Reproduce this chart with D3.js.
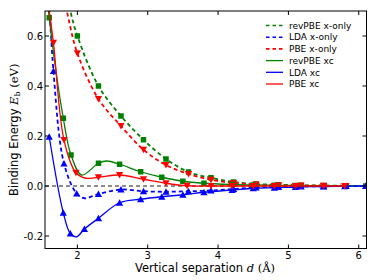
<!DOCTYPE html>
<html>
<head>
<meta charset="utf-8">
<script src="https://cdn.jsdelivr.net/npm/d3@7"></script>
<style>
  body { margin: 0; background: white; }
  svg { display: block; }
</style>
</head>
<body>
<div id="viz-container"></div>
<script>
// marker positions (d in Angstrom, Eb in eV)
let revX_d = [2.0, 2.3, 2.62, 2.94, 3.26, 3.58, 3.9, 4.22, 4.54, 4.86, 5.18, 5.5, 5.82];
let revX_e = [0.60, 0.40, 0.28, 0.185, 0.108, 0.056, 0.033, 0.016, 0.008, 0.005, 0.003, 0.002, 0.001];
let ldaX_d = [1.66, 1.81, 1.99, 2.3, 2.62, 2.94, 3.26, 3.58, 3.9, 4.22, 4.54, 4.86, 5.18, 5.5, 5.82, 6.1];
let ldaX_e = [0.46, 0.09, -0.03, -0.032, -0.014, -0.021, -0.023, -0.021, -0.018, -0.012, -0.006, -0.004, -0.002, -0.001, 0.0, 0.0];
let pbeX_d = [2.0, 2.3, 2.62, 2.94, 3.26, 3.58, 3.9, 4.22, 4.54, 4.86, 5.18, 5.5, 5.82];
let pbeX_e = [0.531, 0.348, 0.24, 0.145, 0.084, 0.048, 0.025, 0.012, 0.006, 0.003, 0.002, 0.001, 0.0];
let revXC_d = [1.6, 1.8, 1.91, 2.3, 2.6, 2.9, 3.2, 3.5, 3.8, 4.2, 4.5, 4.8, 5.1, 5.5, 5.8, 6.1];
let revXC_e = [0.673, 0.271, 0.124, 0.091, 0.087, 0.057, 0.035, 0.019, 0.011, 0.006, 0.004, 0.003, 0.002, 0.001, 0.001, 0.0];
let ldaXC_d = [1.6, 1.8, 1.9, 2.1, 2.3, 2.6, 2.9, 3.2, 3.5, 3.8, 4.2, 4.5, 4.8, 5.1, 5.5, 5.8, 6.1];
let ldaXC_e = [0.197, -0.107, -0.19, -0.172, -0.129, -0.067, -0.053, -0.043, -0.035, -0.025, -0.016, -0.009, -0.007, -0.004, -0.002, -0.001, 0.0];
let pbeXC_d = [1.66, 1.81, 1.98, 2.3, 2.6, 2.94, 3.26, 3.56, 3.9, 4.2, 4.5, 4.8, 5.1, 5.5, 5.8];
let pbeXC_e = [0.573, 0.184, 0.053, 0.035, 0.044, 0.027, 0.011, 0.001, 0.0, 0.0, 0.0, 0.0, 0.0, 0.0, 0.0];

// extra points on the fitted curves (between / beyond markers), also
let revX_curve = [[1.8, 0.83], [1.9, 0.70]];
let ldaX_curve = [[1.6, 0.74], [2.1, -0.049]];
let pbeX_curve = [[1.75, 0.83], [1.85, 0.70]];
let revXC_curve = [[1.56, 0.80], [2.06, 0.044], [2.42, 0.10]];
let ldaXC_curve = [[1.99, -0.203]];
let pbeXC_curve = [[1.6, 0.70], [2.12, 0.031]];

let xTicks = [2, 3, 4, 5, 6];
let yTicks = [-0.2, 0.0, 0.2, 0.4, 0.6];

let series = [
  {name: "revPBE x-only", d: revX_d, e: revX_e, curve: revX_curve, color: "#008000", dash: true, marker: "square"},
  {name: "LDA x-only", d: ldaX_d, e: ldaX_e, curve: ldaX_curve, color: "#0000ff", dash: true, marker: "up"},
  {name: "PBE x-only", d: pbeX_d, e: pbeX_e, curve: pbeX_curve, color: "#ff0000", dash: true, marker: "down"},
  {name: "revPBE xc", d: revXC_d, e: revXC_e, curve: revXC_curve, color: "#008000", dash: false, marker: "square"},
  {name: "LDA xc", d: ldaXC_d, e: ldaXC_e, curve: ldaXC_curve, color: "#0000ff", dash: false, marker: "up"},
  {name: "PBE xc", d: pbeXC_d, e: pbeXC_e, curve: pbeXC_curve, color: "#ff0000", dash: false, marker: "down"}
];

let W = 374, H = 280;
let padL = 45, padR = 366.5, padT = 11, padB = 248.5;

let x = d3.scaleLinear().domain([1.54, 6.11]).range([padL, padR]);
let y = d3.scaleLinear().domain([-0.25, 0.7]).range([padB, padT]);

let viz = d3.select("#viz-container")
  .append("svg")
    .attr("width", W)
    .attr("height", H)
    .attr("font-family", "DejaVu Sans")
;

viz.append("defs").append("clipPath")
    .attr("id", "plotclip")
  .append("rect")
    .attr("x", padL)
    .attr("y", padT)
    .attr("width", padR - padL)
    .attr("height", padB - padT)
;

let plot = viz.append("g").attr("clip-path", "url(#plotclip)");

// zero reference line
plot.append("line")
    .attr("x1", padL)
    .attr("x2", padR)
    .attr("y1", y(0))
    .attr("y2", y(0))
    .attr("stroke", "black")
    .attr("stroke-width", 0.9)
    .attr("stroke-dasharray", "4,3")
;

let line = d3.line()
  .x(p => x(p[0]))
  .y(p => y(p[1]))
  .curve(d3.curveCatmullRom.alpha(0.5))
;

function markerPath(type){
  if (type === "square") return d3.symbol(d3.symbolSquare, 30)();
  let s = 3.6;
  if (type === "up") return "M0," + (-s) + "L" + s + "," + (s * 0.8) + "L" + (-s) + "," + (s * 0.8) + "Z";
  return "M0," + s + "L" + s + "," + (-s * 0.8) + "L" + (-s) + "," + (-s * 0.8) + "Z";
}

series.forEach(function(s){
  let pts = s.d.map((d, i) => [d, s.e[i]]).concat(s.curve);
  pts.sort((a, b) => a[0] - b[0]);

  plot.append("path")
      .attr("d", line(pts))
      .attr("fill", "none")
      .attr("stroke", s.color)
      .attr("stroke-width", s.dash ? 1.8 : 1.3)
      .attr("stroke-dasharray", s.dash ? "4,3" : null)
  ;

  plot.selectAll(null)
    .data(s.d.map((d, i) => [d, s.e[i]]))
    .enter()
    .append("path")
      .attr("d", markerPath(s.marker))
      .attr("transform", p => "translate(" + x(p[0]) + "," + y(p[1]) + ")")
      .attr("fill", s.color)
  ;
});

// frame
viz.append("rect")
    .attr("x", padL)
    .attr("y", padT)
    .attr("width", padR - padL)
    .attr("height", padB - padT)
    .attr("fill", "none")
    .attr("stroke", "black")
    .attr("stroke-width", 1)
;

// ticks inward on all four sides
let tickLen = 4;
xTicks.forEach(function(t){
  viz.append("line").attr("x1", x(t)).attr("x2", x(t)).attr("y1", padB).attr("y2", padB - tickLen).attr("stroke", "black");
  viz.append("line").attr("x1", x(t)).attr("x2", x(t)).attr("y1", padT).attr("y2", padT + tickLen).attr("stroke", "black");
  viz.append("text")
      .attr("x", x(t))
      .attr("y", 258.5)
      .attr("text-anchor", "middle")
      .attr("font-size", 10)
      .text(t)
  ;
});
yTicks.forEach(function(t){
  viz.append("line").attr("x1", padL).attr("x2", padL + tickLen).attr("y1", y(t)).attr("y2", y(t)).attr("stroke", "black");
  viz.append("line").attr("x1", padR).attr("x2", padR - tickLen).attr("y1", y(t)).attr("y2", y(t)).attr("stroke", "black");
  viz.append("text")
      .attr("x", 43)
      .attr("y", y(t) + 3.6)
      .attr("text-anchor", "end")
      .attr("font-size", 10)
      .text(t === 0 ? "0.0" : d3.format(".1f")(t).replace("−", "-"))
  ;
});

// axis labels
let xl = viz.append("text")
    .attr("x", 205)
    .attr("y", 272)
    .attr("text-anchor", "middle")
    .attr("font-size", 11.5)
;
xl.append("tspan").text("Vertical separation ");
xl.append("tspan").attr("font-family", "DejaVu Serif").attr("font-style", "italic").text("d");
xl.append("tspan").attr("font-family", "DejaVu Serif").text(" (Å)");

let yl = viz.append("text")
    .attr("transform", "translate(18," + ((padT + padB) / 2) + ") rotate(-90)")
    .attr("text-anchor", "middle")
    .attr("font-size", 11.5)
;
yl.append("tspan").text("Binding Energy ");
yl.append("tspan").attr("font-family", "DejaVu Serif").attr("font-style", "italic").text("E");
yl.append("tspan").attr("font-family", "DejaVu Serif").attr("font-size", 8).attr("dy", 2).text("b");
yl.append("tspan").attr("font-family", "DejaVu Serif").attr("dy", -2).text(" (eV)");

// legend
let legend = viz.append("g");
series.forEach(function(s, i){
  let ly = 25.5 + i * 11.7;
  legend.append("line")
      .attr("x1", 266)
      .attr("x2", 283)
      .attr("y1", ly)
      .attr("y2", ly)
      .attr("stroke", s.color)
      .attr("stroke-width", s.dash ? 1.6 : 1.3)
      .attr("stroke-dasharray", s.dash ? "3.5,3" : null)
  ;
  legend.append("text")
      .attr("x", 289)
      .attr("y", ly + 3.2)
      .attr("font-size", 9)
      .text(s.name)
  ;
});
</script>
</body>
</html>
